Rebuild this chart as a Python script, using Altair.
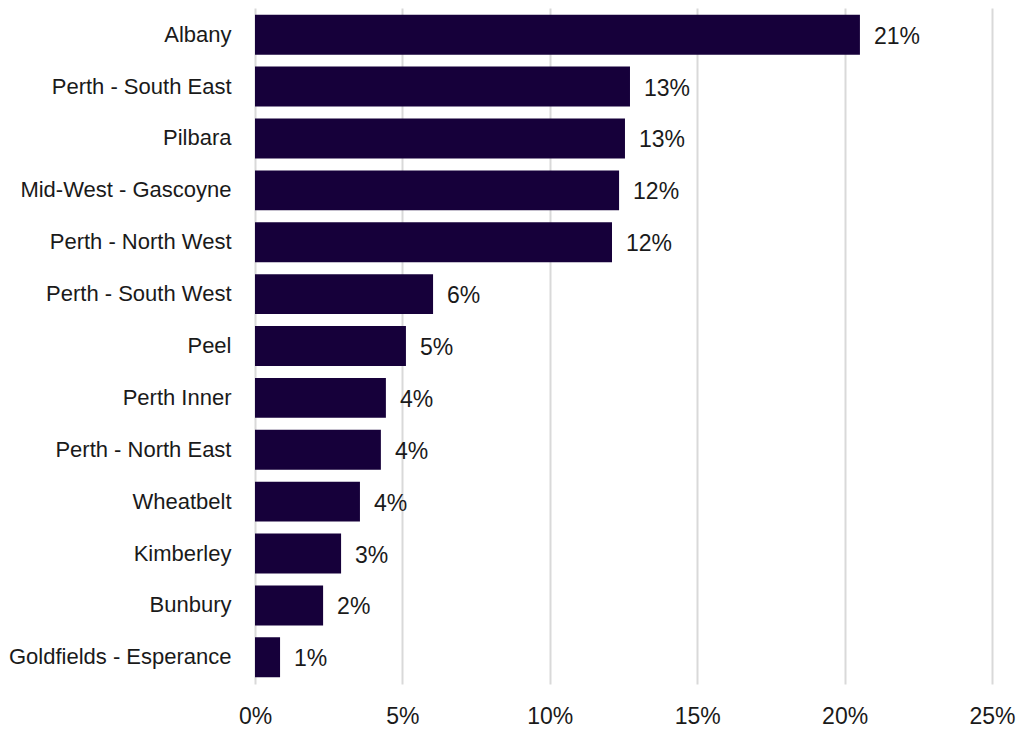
import altair as alt
import pandas as pd

regions = ["Albany", "Perth - South East", "Pilbara", "Mid-West - Gascoyne",
           "Perth - North West", "Perth - South West", "Peel", "Perth Inner",
           "Perth - North East", "Wheatbelt", "Kimberley", "Bunbury",
           "Goldfields - Esperance"]
shares = [0.2052, 0.1272, 0.1255, 0.1235, 0.1211, 0.0604, 0.0512, 0.0444,
          0.0427, 0.0356, 0.0292, 0.0231, 0.0085]

df = pd.DataFrame({"region": regions, "share": shares})

font = "Liberation Sans"
x = alt.X("share:Q", scale=alt.Scale(domain=[0, 0.25]),
          axis=alt.Axis(format=".0%", values=[0, 0.05, 0.1, 0.15, 0.2, 0.25],
                        title=None, ticks=False, domain=False, labelFontSize=23,
                        labelFont=font, labelColor="#1a1a1a", labelPadding=21,
                        labelFlush=False, gridColor="#d9d9d9", gridWidth=2))
y = alt.Y("region:N", sort=regions, scale=alt.Scale(paddingInner=0.23, paddingOuter=0.13),
          axis=alt.Axis(title=None, ticks=False, domain=False, labelFontSize=22,
                        labelFont=font, labelColor="#1a1a1a", labelPadding=24,
                        labelLimit=400))

bars = alt.Chart(df).mark_bar(color="#16003a").encode(x=x, y=y)
labels = alt.Chart(df).mark_text(align="left", baseline="middle", dx=14, dy=2,
                                 fontSize=23, font=font, color="#1a1a1a").encode(
    x=x, y=y, text=alt.Text("share:Q", format=".0%"))

chart = (bars + labels).properties(
    width=737, height=676,
    padding={"left": 247, "top": 0, "right": 30, "bottom": 44},
    autosize=alt.AutoSizeParams(type="none"),
).configure_view(stroke=None)

chart.save("out.html", embed_options={"renderer": "svg", "actions": False})
